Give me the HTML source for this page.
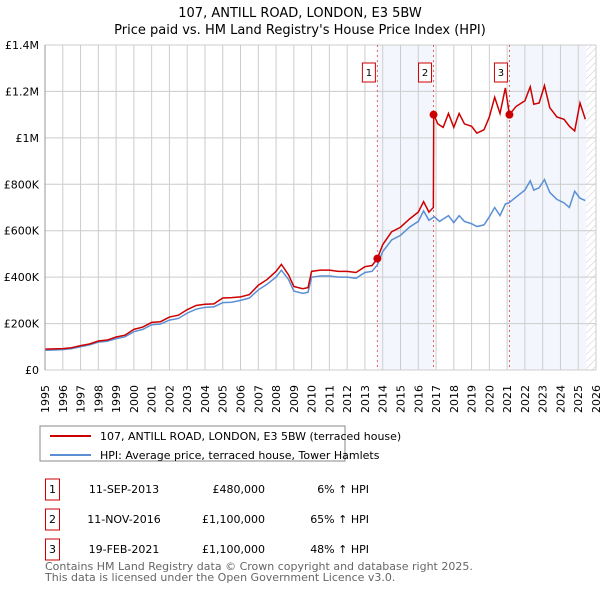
<!DOCTYPE html>
<html><head><meta charset="utf-8"><style>
body{margin:0;width:600px;height:590px;background:#fff;font-family:"Liberation Sans","DejaVu Sans",sans-serif;overflow:hidden}
svg text{font-family:"DejaVu Sans","Liberation Sans",sans-serif}
</style></head><body>
<svg id="c" width="600" height="590">
<defs><pattern id="hatch" width="5" height="5" patternUnits="userSpaceOnUse" patternTransform="rotate(45)"><line x1="0" y1="0" x2="0" y2="5" stroke="#ccc" stroke-width="1"/></pattern></defs>
<text x="300" y="17" text-anchor="middle" font-size="13">107, ANTILL ROAD, LONDON, E3 5BW</text>
<text x="300" y="34" text-anchor="middle" font-size="13">Price paid vs. HM Land Registry's House Price Index (HPI)</text>
<g id="grid"></g><g id="marks"></g><g id="axes"></g>
<rect x="40" y="426" width="305" height="35" fill="#fff" stroke="#888"/>
<line x1="50" y1="436" x2="91" y2="436" stroke="#cc0000" stroke-width="2"/>
<text x="100" y="440" font-size="11">107, ANTILL ROAD, LONDON, E3 5BW (terraced house)</text>
<line x1="50" y1="455" x2="91" y2="455" stroke="#5b8fd4" stroke-width="2"/>
<text x="100" y="459" font-size="11">HPI: Average price, terraced house, Tower Hamlets</text>
<g id="table" font-size="11"></g>
<text x="45" y="570" font-size="11" fill="#666">Contains HM Land Registry data © Crown copyright and database right 2025.</text>
<text x="45" y="581" font-size="11" fill="#666">This data is licensed under the Open Government Licence v3.0.</text>
</svg>
<script>
const hpiYears=[1995,1995.5,1996,1996.5,1997,1997.5,1998,1998.5,1999,1999.5,2000,2000.5,2001,2001.5,2002,2002.5,2003,2003.5,2004,2004.5,2005,2005.5,2006,2006.5,2007,2007.5,2008,2008.3,2008.7,2009,2009.5,2009.8,2010,2010.5,2011,2011.5,2012,2012.5,2013,2013.4,2013.7,2014,2014.5,2015,2015.5,2016,2016.3,2016.6,2016.9,2017.2,2017.7,2018,2018.3,2018.6,2019,2019.3,2019.7,2020,2020.3,2020.6,2020.9,2021.1,2021.5,2022,2022.3,2022.5,2022.8,2023.1,2023.4,2023.8,2024.2,2024.5,2024.8,2025.1,2025.4];
const hpiValues=[85,86,88,92,100,108,120,124,135,143,165,175,195,198,215,222,245,262,270,272,290,292,300,310,345,370,400,430,390,340,330,335,400,405,405,400,400,395,420,425,453,510,560,580,615,640,685,645,660,640,665,635,665,640,630,618,625,660,700,665,715,720,745,775,815,775,785,820,765,735,720,700,770,740,730];
const priceYears=[1995,1995.5,1996,1996.5,1997,1997.5,1998,1998.5,1999,1999.5,2000,2000.5,2001,2001.5,2002,2002.5,2003,2003.5,2004,2004.5,2005,2005.5,2006,2006.5,2007,2007.5,2008,2008.3,2008.7,2009,2009.5,2009.8,2010,2010.5,2011,2011.5,2012,2012.5,2013,2013.4,2013.7,2014,2014.5,2015,2015.5,2016,2016.3,2016.6,2016.85,2016.87,2017.1,2017.4,2017.7,2018,2018.3,2018.6,2019,2019.3,2019.7,2020,2020.3,2020.6,2020.9,2021.13,2021.5,2022,2022.3,2022.5,2022.8,2023.1,2023.4,2023.8,2024.2,2024.5,2024.8,2025.1,2025.4];
const priceValues=[90,91,92,96,105,112,125,129,142,150,175,185,205,208,228,236,260,278,283,285,310,312,315,325,365,390,425,455,410,360,350,355,425,430,430,425,425,420,445,450,480,540,595,615,650,680,725,680,700,1100,1060,1045,1105,1045,1105,1060,1050,1020,1035,1090,1175,1105,1215,1100,1135,1160,1220,1145,1150,1225,1130,1090,1080,1050,1030,1150,1080];
const saleYears=[2013.7,2016.86,2021.13];
const saleValues=[480,1100,1100];
const saleLabels=["1","2","3"];
const saleDates=["11-SEP-2013","11-NOV-2016","19-FEB-2021"];
const salePrices=["£480,000","£1,100,000","£1,100,000"];
const saleHpi=["6% ↑ HPI","65% ↑ HPI","48% ↑ HPI"];
const yTicks=[0,200,400,600,800,1000,1200,1400];
const yTickLabels=["£0","£200K","£400K","£600K","£800K","£1M","£1.2M","£1.4M"];
const xTicks=[1995,1996,1997,1998,1999,2000,2001,2002,2003,2004,2005,2006,2007,2008,2009,2010,2011,2012,2013,2014,2015,2016,2017,2018,2019,2020,2021,2022,2023,2024,2025,2026];

const L=45,R=596,T=45,B=370,NS='http://www.w3.org/2000/svg';
const X=y=>L+(y-1995)/(2026-1995)*(R-L);
const Y=v=>B-v/1400*(B-T);
function mk(p,t,a){const e=document.createElementNS(NS,t);for(const k in a)e.setAttribute(k,a[k]);p.appendChild(e);return e;}
const grid=document.getElementById('grid'),marks=document.getElementById('marks'),axes=document.getElementById('axes'),tbl=document.getElementById('table');
const sh1=mk(grid,'rect',{x:X(saleYears[0]),y:T,width:X(saleYears[1])-X(saleYears[0]),height:B-T,fill:'#eef3fc',opacity:0.7});


const sh2=mk(grid,'rect',{x:X(saleYears[2]),y:T,width:X(2025.45)-X(saleYears[2]),height:B-T,fill:'#eef3fc',opacity:0.7});


const hz=mk(grid,'rect',{x:X(2025.45),y:T,width:R-X(2025.45),height:B-T,fill:'url(#hatch)'});


xTicks.forEach(t=>{const l=mk(grid,'line',{x1:X(t),x2:X(t),y1:T,y2:B,stroke:'#ccc','stroke-width':1});


const tx=mk(axes,'text',{x:0,y:0,'text-anchor':'end','font-size':11,transform:'translate('+(X(t)+4)+',385) rotate(-90)'});tx.textContent=t;

});
yTicks.forEach((t,i)=>{const l=mk(grid,'line',{x1:L,x2:R,y1:Y(t),y2:Y(t),stroke:'#ccc','stroke-width':1});


const tx=mk(axes,'text',{x:L-6,y:Y(t)+4,'text-anchor':'end','font-size':11});tx.textContent=yTickLabels[i];

});
saleYears.forEach((s,i)=>{const l=mk(grid,'line',{x1:X(s),x2:X(s),y1:T,y2:B,stroke:'#e06060','stroke-dasharray':'2,3','stroke-width':1});


const b=mk(axes,'rect',{x:X(s)-15,y:63,width:13,height:19,fill:'#fff',stroke:'#cc0000'});


const tx=mk(axes,'text',{x:X(s)-8.5,y:76,'text-anchor':'middle','font-size':10});tx.textContent=saleLabels[i];

});
const hp=mk(marks,'polyline',{points:hpiYears.map((y,i)=>X(y)+','+Y(hpiValues[i])).join(' '),fill:'none',stroke:'#5b8fd4','stroke-width':1.5});


const pp=mk(marks,'polyline',{points:priceYears.map((y,i)=>X(y)+','+Y(priceValues[i])).join(' '),fill:'none',stroke:'#cc0000','stroke-width':1.5});


saleYears.forEach((s,i)=>{const c=mk(marks,'circle',{cx:X(s),cy:Y(saleValues[i]),r:4,fill:'#cc0000'});

});
const ax=mk(axes,'line',{x1:L,x2:L,y1:T,y2:B,stroke:'#999'});


saleYears.forEach((s,i)=>{const cy=489+i*30;
const b=mk(tbl,'rect',{x:45.5,y:cy-10,width:14,height:21,fill:'#fff',stroke:'#cc0000'});


const vals=[[saleLabels[i],52.5,'middle'],[saleDates[i],124,'middle'],[salePrices[i],265,'end'],[saleHpi[i],369,'end']];
vals.forEach(v=>{const t=mk(tbl,'text',{x:v[1],y:cy+4,'text-anchor':v[2]});t.textContent=v[0];

});});
</script>
</body></html>
